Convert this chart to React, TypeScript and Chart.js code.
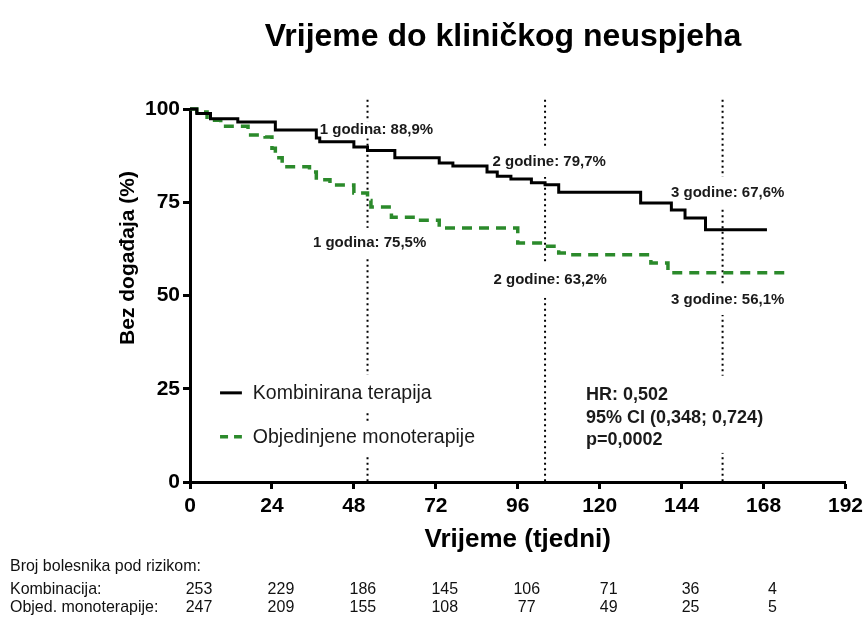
import { useEffect, useRef } from "react";
import { Chart, registerables } from "chart.js";

Chart.register(...registerables);

// ---- Data ----
const titleText = "Vrijeme do kliničkog neuspjeha";
const xTitle = "Vrijeme (tjedni)";
const yTitle = "Bez događaja (%)";

const kombName = "Kombinirana terapija";
const monoName = "Objedinjene monoterapije";

const kombWeeks = [0, 2, 6, 14, 25, 37, 38, 48, 52, 60, 73, 77, 87, 90, 94, 100, 104, 108, 132, 141, 145, 151, 169];
const kombSurv = [100, 98.8, 97.4, 96.5, 94.4, 92.2, 91.2, 89.8, 88.9, 86.9, 85.5, 84.7, 83.1, 82.0, 81.2, 80.2, 79.7, 77.7, 74.8, 72.9, 70.8, 67.6, 67.6];

const monoWeeks = [0, 2, 5, 9, 17, 22, 24, 25, 27, 35, 37, 41, 48, 52, 53, 59, 67, 73, 96, 104, 108, 111, 135, 140, 175.5];
const monoSurv = [100, 99.2, 97.0, 95.4, 93.0, 92.5, 89.5, 86.9, 84.5, 83.1, 81.0, 79.6, 77.5, 75.5, 73.7, 71.0, 70.2, 68.1, 64.1, 63.2, 61.4, 60.9, 58.7, 56.1, 56.1];

const xTickStep = 24;
const yTickStep = 25;

const landmarkWeeks = [52, 104, 156];
const kombLandmarkLabels = ["1 godina: 88,9%", "2 godine: 79,7%", "3 godine: 67,6%"];
const monoLandmarkLabels = ["1 godina: 75,5%", "2 godine: 63,2%", "3 godine: 56,1%"];

const statsLines = ["HR: 0,502", "95% CI (0,348; 0,724)", "p=0,0002"];

const riskHeader = "Broj bolesnika pod rizikom:";
const riskRowNames = ["Kombinacija:", "Objed. monoterapije:"];
const riskTimes = [0, 24, 48, 72, 96, 120, 144, 168];
const riskKomb = [253, 229, 186, 145, 106, 71, 36, 4];
const riskMono = [247, 209, 155, 108, 77, 49, 25, 5];

const GREEN = "#2b8a2b";
const FONT = '"Liberation Sans", Arial, sans-serif';

const toPts = (xs: number[], ys: number[]) => xs.map((x, i) => ({ x, y: ys[i] }));

const overlayPlugin = {
  id: "overlay",
  beforeDatasetsDraw(chart: any) {
    const ctx = chart.ctx as CanvasRenderingContext2D;
    const xs = chart.scales.x;
    const ys = chart.scales.y;
    const area = chart.chartArea;
    const px = (v: number) => xs.getPixelForValue(v);
    const py = (v: number) => ys.getPixelForValue(v);
    ctx.save();

    // dotted landmark lines
    ctx.strokeStyle = "#000";
    ctx.lineWidth = 2;
    ctx.setLineDash([2, 3.5]);
    landmarkWeeks.forEach((w) => {
      ctx.beginPath();
      ctx.moveTo(px(w), py(102.5));
      ctx.lineTo(px(w), area.bottom);
      ctx.stroke();
    });
    ctx.setLineDash([]);

    const label = (text: string, cx: number, cy: number, font: string, align: CanvasTextAlign, boxH: number) => {
      ctx.font = font;
      const w = ctx.measureText(text).width;
      const left = align === "center" ? cx - w / 2 : cx;
      ctx.fillStyle = "#fff";
      ctx.fillRect(left - 4, cy - boxH / 2, w + 8, boxH);
      ctx.fillStyle = "#1a1a1a";
      ctx.textAlign = align;
      ctx.textBaseline = "middle";
      ctx.fillText(text, cx, cy);
    };

    const annFont = `bold 15px ${FONT}`;
    label(kombLandmarkLabels[0], px(54.6), py(94.4), annFont, "center", 17);
    label(kombLandmarkLabels[1], px(105.2), py(85.8), annFont, "center", 30);
    label(kombLandmarkLabels[2], px(157.5), py(77.5), annFont, "center", 32);
    label(monoLandmarkLabels[0], px(52.6), py(64.1), annFont, "center", 30);
    label(monoLandmarkLabels[1], px(105.5), py(54.2), annFont, "center", 36);
    label(monoLandmarkLabels[2], px(157.5), py(48.8), annFont, "center", 30);

    // stats block
    ctx.font = `bold 18px ${FONT}`;
    const statW = Math.max(...statsLines.map((s) => ctx.measureText(s).width));
    const sx = px(116);
    ctx.fillStyle = "#fff";
    ctx.fillRect(sx - 5, py(28.5), statW + 10, py(7.8) - py(28.5));
    const statYs = [23.3, 17.2, 11.3];
    statsLines.forEach((s, i) => {
      ctx.fillStyle = "#1a1a1a";
      ctx.textAlign = "left";
      ctx.textBaseline = "middle";
      ctx.fillText(s, sx, py(statYs[i]));
    });

    // legend
    const legFont = `19.5px ${FONT}`;
    const legX = px(18.4);
    label(kombName, legX, py(23.6), legFont, "left", 38);
    label(monoName, legX, py(11.8), legFont, "left", 32);
    ctx.lineWidth = 3;
    ctx.strokeStyle = "#000";
    ctx.beginPath();
    ctx.moveTo(px(8.8), py(23.9));
    ctx.lineTo(px(15.2), py(23.9));
    ctx.stroke();
    ctx.strokeStyle = GREEN;
    ctx.lineWidth = 3.5;
    ctx.setLineDash([8, 6]);
    ctx.beginPath();
    ctx.moveTo(px(8.8), py(12.1));
    ctx.lineTo(px(15.2), py(12.1));
    ctx.stroke();
    ctx.setLineDash([]);

    ctx.restore();
  },
  afterDraw(chart: any) {
    const ctx = chart.ctx as CanvasRenderingContext2D;
    const xs = chart.scales.x;
    const area = chart.chartArea;
    ctx.save();
    ctx.fillStyle = "#000";
    ctx.textBaseline = "middle";

    // title
    ctx.font = `bold 32px ${FONT}`;
    ctx.textAlign = "center";
    ctx.fillText(titleText, 503, 37);

    // x title
    ctx.font = `bold 26px ${FONT}`;
    ctx.fillText(xTitle, (area.left + area.right) / 2, area.bottom + 58);

    // y title
    ctx.save();
    ctx.translate(128, 258);
    ctx.rotate(-Math.PI / 2);
    ctx.font = `bold 21px ${FONT}`;
    ctx.fillText(yTitle, 0, 0);
    ctx.restore();

    // at-risk table
    const sc = 0.94;
    ctx.fillStyle = "#111";
    ctx.save();
    ctx.scale(sc, 1);
    ctx.font = `17px ${FONT}`;
    ctx.textAlign = "left";
    ctx.fillText(riskHeader, 10 / sc, area.bottom + 84);
    ctx.fillText(riskRowNames[0], 10 / sc, area.bottom + 107);
    ctx.fillText(riskRowNames[1], 10 / sc, area.bottom + 125);
    ctx.textAlign = "center";
    riskTimes.forEach((t, i) => {
      const cx = xs.getPixelForValue(t) + 9;
      ctx.fillText(String(riskKomb[i]), cx / sc, area.bottom + 107);
      ctx.fillText(String(riskMono[i]), cx / sc, area.bottom + 125);
    });
    ctx.restore();

    ctx.restore();
  },
};

export default function App() {
  const ref = useRef<HTMLCanvasElement | null>(null);
  useEffect(() => {
    if (!ref.current) return;
    const chart = new Chart(ref.current, {
      type: "line",
      data: {
        datasets: [
          {
            label: kombName,
            data: toPts(kombWeeks, kombSurv),
            borderColor: "#000",
            borderWidth: 3,
            stepped: true,
            pointRadius: 0,
            fill: false,
            clip: 6,
          },
          {
            label: monoName,
            data: toPts(monoWeeks, monoSurv),
            borderColor: GREEN,
            borderWidth: 3.5,
            borderDash: [10, 7],
            stepped: true,
            pointRadius: 0,
            fill: false,
            clip: 6,
          },
        ],
      },
      options: {
        responsive: false,
        animation: false,
        devicePixelRatio: 1,
        layout: { padding: { top: 109, right: 21, left: 0, bottom: 0 } },
        plugins: {
          legend: { display: false },
          tooltip: { enabled: false },
          title: { display: false },
        },
        scales: {
          x: {
            type: "linear",
            min: 0,
            max: 192,
            afterFit: (s: any) => {
              s.height = 141;
            },
            ticks: {
              stepSize: xTickStep,
              color: "#000",
              font: { family: FONT, size: 21, weight: "bold" },
              padding: 5,
              maxRotation: 0,
            },
            grid: {
              drawOnChartArea: false,
              drawTicks: true,
              tickLength: 7,
              tickWidth: 3,
              tickColor: "#000",
            },
            border: { display: true, color: "#000", width: 3 },
          },
          y: {
            type: "linear",
            min: 0,
            max: 100,
            afterFit: (s: any) => {
              s.width = 190;
            },
            ticks: {
              stepSize: yTickStep,
              color: "#000",
              font: { family: FONT, size: 21, weight: "bold" },
              padding: 3,
            },
            grid: {
              drawOnChartArea: false,
              drawTicks: true,
              tickLength: 7,
              tickWidth: 3,
              tickColor: "#000",
            },
            border: { display: true, color: "#000", width: 3 },
          },
        },
      },
      plugins: [overlayPlugin],
    } as any);
    return () => chart.destroy();
  }, []);

  return (
    <div style={{ position: "absolute", left: 0, top: 0, width: 868, height: 623, background: "#fff" }}>
      <canvas ref={ref} width={868} height={623} style={{ width: 868, height: 623, display: "block" }} />
    </div>
  );
}
